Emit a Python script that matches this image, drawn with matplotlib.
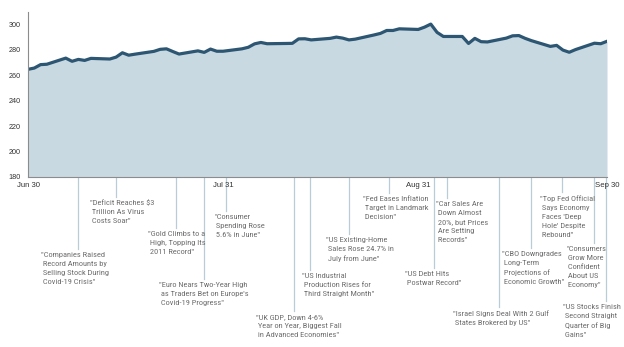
import matplotlib
matplotlib.use("Agg")
import matplotlib.pyplot as plt
import matplotlib.dates as mdates
import matplotlib.transforms as mtransforms
import pandas as pd

# index level by trading day (holidays carry the previous close)
DATES = [
    "2020-06-30", "2020-07-01", "2020-07-02", "2020-07-03", "2020-07-06", "2020-07-07", "2020-07-08",
    "2020-07-09", "2020-07-10", "2020-07-13", "2020-07-14", "2020-07-15", "2020-07-16", "2020-07-17",
    "2020-07-20", "2020-07-21", "2020-07-22", "2020-07-23", "2020-07-24", "2020-07-27", "2020-07-28",
    "2020-07-29", "2020-07-30", "2020-07-31", "2020-08-03", "2020-08-04", "2020-08-05", "2020-08-06",
    "2020-08-07", "2020-08-10", "2020-08-11", "2020-08-12", "2020-08-13", "2020-08-14", "2020-08-17",
    "2020-08-18", "2020-08-19", "2020-08-20", "2020-08-21", "2020-08-24", "2020-08-25", "2020-08-26",
    "2020-08-27", "2020-08-28", "2020-08-31", "2020-09-01", "2020-09-02", "2020-09-03", "2020-09-04",
    "2020-09-07", "2020-09-08", "2020-09-09", "2020-09-10", "2020-09-11", "2020-09-14", "2020-09-15",
    "2020-09-16", "2020-09-17", "2020-09-18", "2020-09-21", "2020-09-22", "2020-09-23", "2020-09-24",
    "2020-09-25", "2020-09-28", "2020-09-29", "2020-09-30",
]
VALUES = [
    264.5, 265.5, 268.2, 268.5, 273.3, 270.8, 272.3,
    271.5, 273.1, 272.6, 274.1, 277.5, 275.6, 276.4,
    278.6, 280.2, 280.6, 278.5, 276.5, 279.0, 277.8,
    280.4, 278.7, 278.7, 280.6, 281.8, 284.5, 285.6,
    284.6, 284.8, 284.9, 288.4, 288.5, 287.6, 288.8,
    289.8, 289.0, 287.6, 288.2, 291.5, 292.7, 295.0,
    295.0, 296.3, 295.8, 297.6, 300.0, 293.5, 290.3,
    290.3, 284.8, 288.8, 286.2, 286.0, 289.0, 290.8,
    291.0, 288.8, 287.0, 282.5, 283.3, 279.6, 277.9,
    280.0, 285.0, 284.6, 286.5,
]

TICK_DATES = ["2020-06-30", "2020-07-31", "2020-08-31", "2020-09-30"]
TICK_LABELS = ["Jun 30", "Jul 31", "Aug 31", "Sep 30"]
Y_TICKS = [180, 200, 220, 240, 260, 280, 300]

EVENT_DATES = [
    "2020-07-08", "2020-07-14", "2020-07-23 12:00", "2020-07-28", "2020-07-31 12:00",
    "2020-08-11 06:00", "2020-08-13 18:00", "2020-08-20", "2020-08-26 10:00", "2020-09-02 12:00",
    "2020-09-04 14:00", "2020-09-12 21:00", "2020-09-18", "2020-09-22 21:00", "2020-09-28",
    "2020-09-29 20:00",
]
EVENT_TEXTS = [
    '"Companies Raised\n Record Amounts by\n Selling Stock During\n Covid-19 Crisis"',
    '"Deficit Reaches \\$3\n Trillion As Virus\n Costs Soar"',
    '"Gold Climbs to a\n High, Topping Its\n 2011 Record"',
    '"Euro Nears Two-Year High\n as Traders Bet on Europe\'s\n Covid-19 Progress"',
    '"Consumer\n Spending Rose\n 5.6% in June"',
    '"UK GDP, Down 4-6%\n Year on Year, Biggest Fall\n in Advanced Economies"',
    '"US Industrial\n Production Rises for\n Third Straight Month"',
    '"US Existing-Home\n Sales Rose 24.7% in\n July from June"',
    '"Fed Eases Inflation\n Target in Landmark\n Decision"',
    '"US Debt Hits\n Postwar Record"',
    '"Car Sales Are\n Down Almost\n 20%, but Prices\n Are Setting\n Records"',
    '"Israel Signs Deal With 2 Gulf\n States Brokered by US"',
    '"CBO Downgrades\n Long-Term\n Projections of\n Economic Growth"',
    '"Top Fed Official\n Says Economy\n Faces \'Deep\n Hole\' Despite\n Rebound"',
    '"Consumers\n Grow More\n Confident\n About US\n Economy"',
    '"US Stocks Finish\n Second Straight\n Quarter of Big\n Gains"',
]

# layout of the callouts, in figure pixels: text top, and text left relative to the leader line
TEXT_TOP = [253, 201, 232, 283, 215, 315, 274, 238, 197, 272, 202, 311, 252, 196, 247, 305]
TEXT_DX = [-37, -26, -28, -45, -12, -38, -8, -23, -26, -29, -11, -46, -29, -22, -28, -43]

W, H = 624, 347
LINE_COLOR = "#2d5673"
FILL_COLOR = "#c9d9e2"
LEADER_COLOR = "#b9cdd8"
TEXT_COLOR = "#6e6e6e"
NARROW = ["Roboto Condensed", "Liberation Sans", "DejaVu Sans"]

plt.rcParams["font.family"] = ["Liberation Sans", "DejaVu Sans"]

dates = pd.to_datetime(DATES)
fig = plt.figure(figsize=(W / 100, H / 100), dpi=100)
ax = fig.add_axes([28 / W, 1 - 177 / H, (607 - 28) / W, (177 - 12) / H])

ax.fill_between(dates, VALUES, 180, color=FILL_COLOR, lw=0)
ax.plot(dates, VALUES, color=LINE_COLOR, lw=2.3, solid_joinstyle="round")

ax.set_xlim(pd.Timestamp(TICK_DATES[0]), pd.Timestamp(TICK_DATES[-1]))
ax.set_ylim(180, 309.5)
ax.set_yticks(Y_TICKS)
ax.set_xticks(pd.to_datetime(TICK_DATES))
ax.set_xticklabels(TICK_LABELS)
ax.tick_params(axis="y", length=0, pad=5, labelsize=5.2, labelcolor="#333333")
ax.tick_params(axis="x", length=0, pad=3.5, labelsize=5.6, labelcolor="#333333")
for s in ["top", "right"]:
    ax.spines[s].set_visible(False)
for s in ["left", "bottom"]:
    ax.spines[s].set_color("#8c8c8c")
    ax.spines[s].set_linewidth(0.8)

# callouts below the chart
trans = mtransforms.blended_transform_factory(ax.transData, fig.transFigure)
y0 = 1 - 177 / H
for d, txt, top, dx in zip(EVENT_DATES, EVENT_TEXTS, TEXT_TOP, TEXT_DX):
    xd = mdates.date2num(pd.Timestamp(d))
    ax.plot([xd, xd], [y0, 1 - (top - 4) / H], transform=trans, color=LEADER_COLOR,
            lw=0.9, clip_on=False, zorder=0)
    t = mtransforms.offset_copy(trans, fig=fig, x=dx, y=0, units="dots")
    ax.text(xd, 1 - (top - 1) / H, txt, transform=t, ha="left", va="top",
            fontsize=6.0, color=TEXT_COLOR, linespacing=1.6, family=NARROW)

fig.savefig("out.png", dpi=100)
